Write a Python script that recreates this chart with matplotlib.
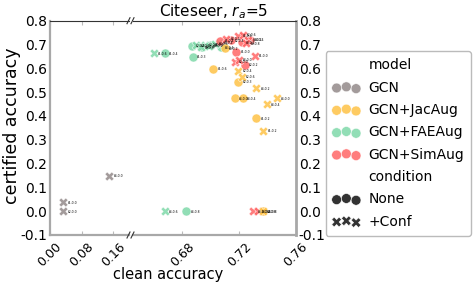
import matplotlib
matplotlib.use("Agg")
import matplotlib.pyplot as plt
import numpy as np

# ---- data ----
models = (["GCN"] * 3
          + ["GCN+FAEAug"] * 15
          + ["GCN+SimAug"] * 16
          + ["GCN+JacAug"] * 14)
conditions = (["+Conf"] * 3
              + ["None"] * 7 + ["+Conf"] * 8
              + ["None"] * 6 + ["+Conf"] * 10
              + ["None"] * 7 + ["+Conf"] * 7)
clean = [0.034, 0.034, 0.150,
         0.668, 0.6875, 0.687, 0.694, 0.707, 0.700, 0.683,
         0.660, 0.690, 0.696, 0.699, 0.703, 0.706, 0.693, 0.668,
         0.7067, 0.714, 0.718, 0.724, 0.722, 0.728,
         0.7195, 0.7225, 0.7265, 0.731, 0.717, 0.720, 0.711, 0.725, 0.730, 0.733,
         0.702, 0.7195, 0.717, 0.7226, 0.732, 0.710, 0.737,
         0.7195, 0.722, 0.732, 0.7465, 0.7394, 0.737, 0.7366]
certified = [0.037, 0.000, 0.149,
             0.663, 0.649, 0.694, 0.690, 0.688, 0.700, 0.000,
             0.663, 0.697, 0.700, 0.695, 0.703, 0.708, 0.688, 0.000,
             0.715, 0.718, 0.670, 0.614, 0.710, 0.720,
             0.737, 0.740, 0.720, 0.652, 0.628, 0.635, 0.725, 0.705, 0.000, 0.000,
             0.597, 0.544, 0.474, 0.474, 0.390, 0.684, 0.000,
             0.590, 0.565, 0.516, 0.474, 0.449, 0.337, 0.000]
point_labels = ["k1,0.0", "k2,0.0", "k4,0.0",
                "k1,0.4", "k1,0.3", "k2,0.4", "k2,0.6", "k3,0.4", "k4,0.2", "k4,0.8",
                "k1,0.6", "k2,0.2", "k2,0.8", "k3,0.2", "k3,0.6", "k4,0.4", "k3,0.8", "k4,0.6",
                "k1,0.4", "k2,0.4", "k1,0.0", "k2,0.2", "k3,0.2", "k4,0.4",
                "k1,0.6", "k2,0.6", "k3,0.2", "k1,0.0", "k2,0.0", "k3,0.0", "k4,0.2", "k4,0.8", "k4,0.0", "k3,0.4",
                "k1,0.6", "k2,0.3", "k4,0.0", "k3,0.4", "k1,0.2", "k4,0.2", "k4,0.8",
                "k2,0.4", "k2,0.6", "k4,0.2", "k4,0.0", "k3,0.4", "k1,0.2", "k2,0.8"]

model_order = ["GCN", "GCN+JacAug", "GCN+FAEAug", "GCN+SimAug"]
palette = {"GCN": "#938a8a", "GCN+JacAug": "#fec246",
           "GCN+FAEAug": "#7fd9a9", "GCN+SimAug": "#ff6666"}
cond_order = ["None", "+Conf"]
markers = {"None": "o", "+Conf": "X"}

title = "Citeseer, $r_a$=5"
left_ticks = [0.00, 0.08, 0.16]
right_ticks = [0.68, 0.72, 0.76]
yticks = [-0.1, 0.0, 0.1, 0.2, 0.3, 0.4, 0.5, 0.6, 0.7, 0.8]

# ---- figure ----
W, H = 474, 289
TOP, BOT = 20.7, 235.0
fig = plt.figure(figsize=(W / 100, H / 100), dpi=100)
ax_l = fig.add_axes([50 / W, 1 - BOT / H, 79 / W, (BOT - TOP) / H])
ax_r = fig.add_axes([133 / W, 1 - BOT / H, 163 / W, (BOT - TOP) / H])

spine_gray = "#a8a8a8"
for ax, xl, xt in [(ax_l, (0.0, 0.2), left_ticks), (ax_r, (0.6455, 0.76), right_ticks)]:
    for m, c, x, y, lab in zip(models, conditions, clean, certified, point_labels):
        ax.scatter([x], [y], s=42, color=palette[m], marker=markers[c],
                   alpha=0.85, edgecolor="white", linewidth=0.4, zorder=3)
        ax.annotate(lab, (x, y), xytext=(3, -1), textcoords="offset points",
                    fontsize=2.2, color="black", annotation_clip=True, zorder=4)
    ax.set_xlim(*xl)
    ax.set_ylim(-0.1, 0.8)
    ax.set_xticks(xt)
    ax.set_xticklabels([f"{t:.2f}" for t in xt], rotation=45, fontsize=9)
    ax.set_yticks(yticks)
    ax.set_yticklabels([f"{t:.1f}" for t in yticks], fontsize=10)
    ax.tick_params(axis="x", direction="in", length=3, color="#bbbbbb",
                   top=True, bottom=True, pad=4)
    ax.tick_params(axis="y", length=0, pad=2)
    ax.spines["top"].set_color("#333333")
    ax.spines["top"].set_linewidth(0.8)
    ax.spines["bottom"].set_color(spine_gray)
    ax.spines["bottom"].set_linewidth(1.6)

ax_l.spines["right"].set_visible(False)
ax_l.spines["left"].set_color(spine_gray)
ax_l.spines["left"].set_linewidth(1.6)
ax_r.spines["left"].set_visible(False)
ax_r.spines["right"].set_color(spine_gray)
ax_r.spines["right"].set_linewidth(2.0)
ax_r.yaxis.tick_right()
ax_r.tick_params(axis="y", labelright=True, labelleft=False, length=0, pad=2)
ax_l.tick_params(axis="y", labelleft=True)

# break marks "//" (in figure pixel coords)
for ypix in (TOP, BOT):
    for xpix in (128.5, 132.5):
        fig.lines.append(plt.Line2D(
            [(xpix - 1.5) / W, (xpix + 1.5) / W],
            [1 - (ypix + 3) / H, 1 - (ypix - 3) / H],
            transform=fig.transFigure, color="#333333", linewidth=0.8))

fig.text(214 / W, 1 - 12 / H, title, ha="center", va="center", fontsize=11)
fig.text(168 / W, 1 - 275 / H, "clean accuracy", ha="center", va="center", fontsize=10.5)
fig.text(12 / W, 1 - 126 / H, "certified accuracy", ha="center", va="center",
         rotation=90, fontsize=12.5)

# legend
handles, labels = [], []
blank = ax_r.scatter([], [], s=0, color="none")
handles.append(blank); labels.append("model")
for m in model_order:
    handles.append(ax_r.scatter([], [], s=50, color=palette[m], marker="o", alpha=0.85,
                                edgecolor="white", linewidth=0.4))
    labels.append(m)
handles.append(blank); labels.append("condition")
for c in cond_order:
    handles.append(ax_r.scatter([], [], s=50, color="#333333", marker=markers[c],
                                edgecolor="white", linewidth=0.4))
    labels.append(c)
fig.legend(handles, labels, loc="center left", bbox_to_anchor=(325.5 / W, 1 - 143.5 / H),
           borderaxespad=0, fontsize=10, scatterpoints=3, frameon=True, edgecolor="#aaaaaa",
           fancybox=True, borderpad=0.5, labelspacing=0.6, handletextpad=0.6)

fig.savefig("out.png", dpi=100)
